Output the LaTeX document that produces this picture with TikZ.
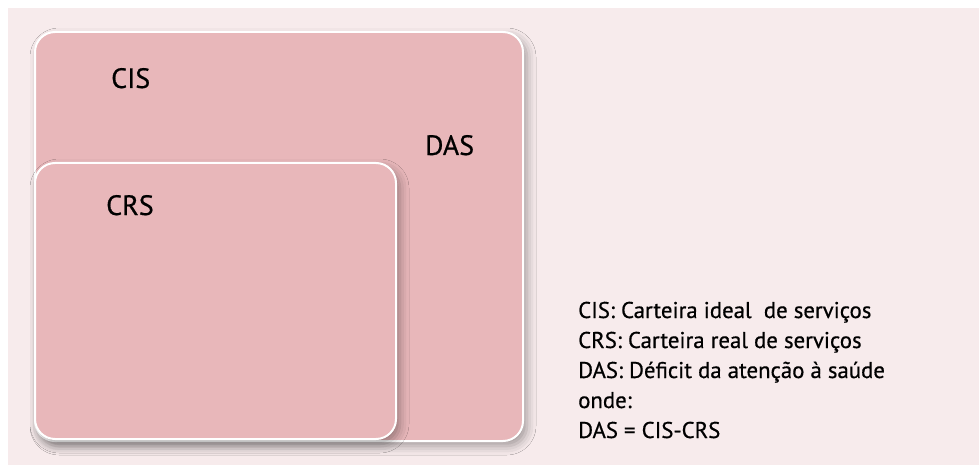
\documentclass[tikz,border=0pt]{standalone}
\usepackage{fontspec}
\setmainfont{PT Sans}
\newfontfamily\heavyfont{PT Sans}[FakeBold=0.6]
\usetikzlibrary{shadows.blur}
\definecolor{bgpink}{HTML}{F7EBEC}
\definecolor{boxpink}{HTML}{E8B7BA}
\begin{document}
\begin{tikzpicture}[x=1pt,y=-1pt,
  box/.style={fill=boxpink, draw=white, line width=2pt, rounded corners=20pt, inner sep=0pt, outer sep=0pt,
    blur shadow={shadow xshift=4pt, shadow yshift=-5pt, shadow blur radius=9pt, shadow opacity=35}},
  lbl/.style={anchor=base west, inner sep=0pt, font=\heavyfont\fontsize{28}{32}\selectfont},
  leg/.style={anchor=base west, inner sep=0pt, font=\heavyfont\fontsize{22.8}{30}\selectfont}]
\useasboundingbox (0,0) rectangle (979,465);
\fill[white] (0,0) rectangle (979,465);
\fill[bgpink] (8,8) rectangle (979,465);
\node[box, minimum width=488pt, minimum height=409pt, anchor=north west] (cis) at (35,32) {};
\node[box, minimum width=361pt, minimum height=276pt, anchor=north west] (crs) at (35,163) {};
\node[lbl] (cisl) at (111,88) {CIS};
\node[lbl] (crsl) at (106,215) {CRS};
\node[lbl] (dasl) at (425,155) {DAS};
\node[leg] (leg1) at (578,318) {CIS: Carteira ideal\ \ de serviços};
\node[leg] (leg2) at (578,348) {CRS: Carteira real de serviços};
\node[leg] (leg3) at (578,378) {DAS: Déficit da atenção à saúde};
\node[leg] (leg4) at (578,408) {onde:};
\node[leg] (leg5) at (578,438) {DAS = CIS-CRS};
\end{tikzpicture}
\end{document}
